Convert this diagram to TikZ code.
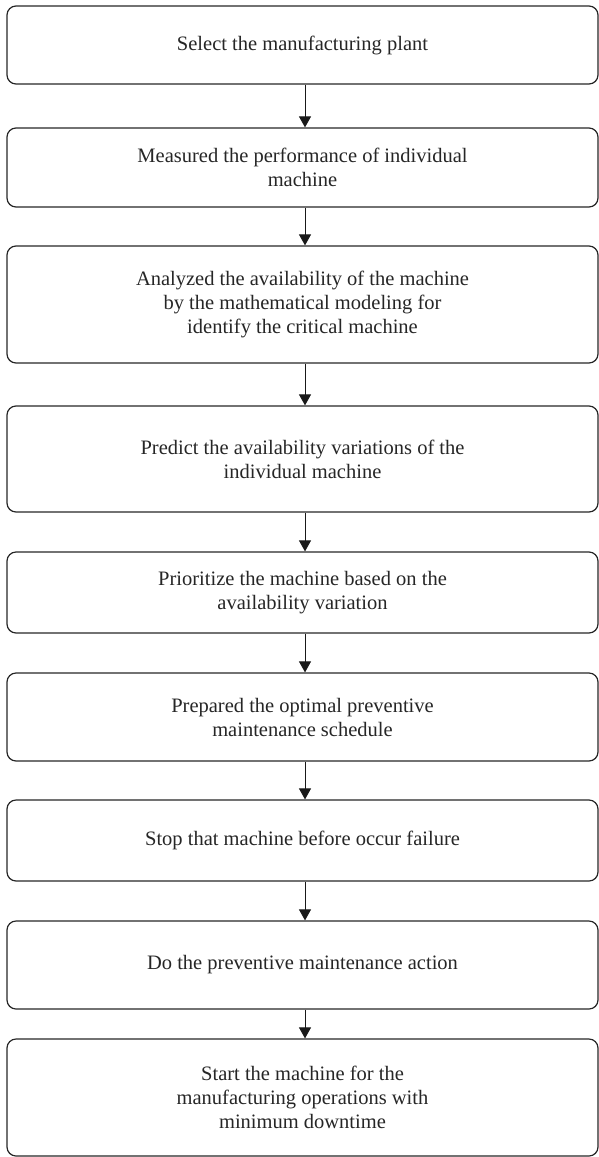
\documentclass[tikz,border=0pt]{standalone}
\usepackage{fontspec}
\setmainfont{Liberation Serif}
\usetikzlibrary{arrows.meta}
\begin{document}
\begin{tikzpicture}[x=1pt,y=-1pt,
  stepbox/.style={draw=black!85, line width=1.2pt, rounded corners=9pt,
    minimum width=591pt, inner sep=0pt, align=center,
    font=\fontsize{20.5}{24}\selectfont, text=black!85},
  flow/.style={-{Triangle[width=12pt,length=11pt]}, line width=1pt, draw=black!90}]
\useasboundingbox (0,0) rectangle (598,1157);

% process steps, top to bottom
\node[stepbox, minimum height=78pt]  (b1) at (302.5,45)     {Select the manufacturing plant};
\node[stepbox, minimum height=79pt]  (b2) at (302.5,167.5)  {Measured the performance of individual\\machine};
\node[stepbox, minimum height=117pt] (b3) at (302.5,304.5)  {Analyzed the availability of the machine\\by the mathematical modeling for\\identify the critical machine};
\node[stepbox, minimum height=106pt] (b4) at (302.5,459)    {Predict the availability variations of the\\individual machine};
\node[stepbox, minimum height=81pt]  (b5) at (302.5,592.5)  {Prioritize the machine based on the\\availability variation};
\node[stepbox, minimum height=88pt]  (b6) at (302.5,717)    {Prepared the optimal preventive\\maintenance schedule};
\node[stepbox, minimum height=81pt]  (b7) at (302.5,840.5)  {Stop that machine before occur failure};
\node[stepbox, minimum height=88pt]  (b8) at (302.5,965)    {Do the preventive maintenance action};
\node[stepbox, minimum height=117pt] (b9) at (302.5,1097.5) {Start the machine for the\\manufacturing operations with\\minimum downtime};

% connecting arrows
\foreach \a/\b in {b1/b2,b2/b3,b3/b4,b4/b5,b5/b6,b6/b7,b7/b8,b8/b9}
  \draw[flow] ([xshift=2.5pt]\a.south) -- ([xshift=2.5pt]\b.north);
\end{tikzpicture}
\end{document}
